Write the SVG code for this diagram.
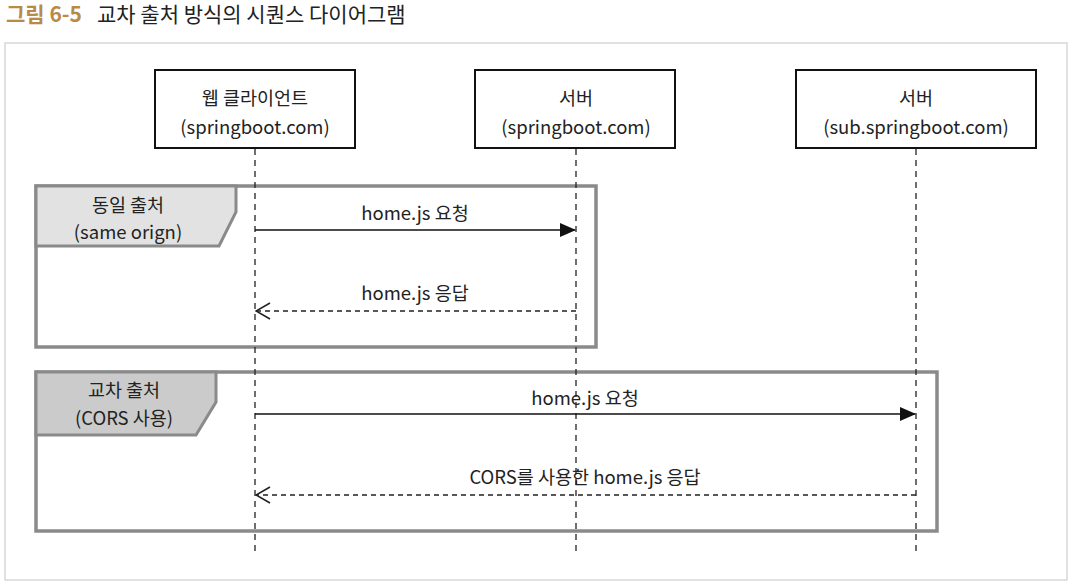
<svg xmlns="http://www.w3.org/2000/svg" width="1076" height="586" viewBox="0 0 1076 586">
<defs>
<style>
text{font-family:"Noto Sans CJK KR","Noto Sans",sans-serif;fill:#222;}
.lbl{font-size:18.5px;text-anchor:middle;}
.box{fill:#fff;stroke:#111;stroke-width:2;}
.life{stroke:#222;stroke-width:1.3;stroke-dasharray:6,5;fill:none;}
.frame{fill:none;stroke:#8a8a8a;stroke-width:3.5;}
.msg{stroke:#111;stroke-width:1.6;fill:none;}
.ret{stroke:#222;stroke-width:1.6;stroke-dasharray:5,4;fill:none;}
</style>
<marker id="fill" markerWidth="16" markerHeight="14" refX="15" refY="7" orient="auto" markerUnits="userSpaceOnUse">
<path d="M0,0 L16,7 L0,14 Z" fill="#111"/>
</marker>
<marker id="open" markerWidth="16" markerHeight="18" refX="15" refY="9" orient="auto" markerUnits="userSpaceOnUse">
<path d="M1,1 L15,9 L1,17" fill="none" stroke="#222" stroke-width="1.6"/>
</marker>
</defs>
<rect width="1076" height="586" fill="#fff"/>
<text x="6" y="22" style="font-size:21px;font-weight:bold;fill:#b88a48">그림 6-5</text>
<text x="97" y="22" style="font-size:21px;fill:#222">교차 출처 방식의 시퀀스 다이어그램</text>
<rect x="5" y="43" width="1062" height="537" fill="#fff" stroke="#d8d8d8" stroke-width="1.5"/>

<g id="frame-same">
<rect class="frame" x="36" y="186" width="560" height="161"/>
<polygon points="36,186 236,186 236,212 219,246 36,246" fill="#e2e2e2" stroke="#8a8a8a" stroke-width="3"/>
<text class="lbl" x="128" y="212">동일 출처</text>
<text class="lbl" x="128" y="239">(same orign)</text>
</g>
<g id="frame-cors">
<rect class="frame" x="36" y="372" width="901" height="159"/>
<polygon points="36,372 216,372 216,402 196,435 36,435" fill="#cbcbcb" stroke="#8a8a8a" stroke-width="3"/>
<text class="lbl" x="124" y="397">교차 출처</text>
<text class="lbl" x="124" y="425">(CORS 사용)</text>
</g>

<g id="lifelines">
<line class="life" x1="255" y1="149" x2="255" y2="553"/>
<line class="life" x1="576" y1="149" x2="576" y2="553"/>
<line class="life" x1="916" y1="149" x2="916" y2="553"/>
</g>

<g id="client">
<rect class="box" x="155" y="70" width="200" height="78"/>
<text class="lbl" x="255" y="105">웹 클라이언트</text>
<text class="lbl" x="255" y="134">(springboot.com)</text>
</g>
<g id="server">
<rect class="box" x="475" y="70" width="200" height="78"/>
<text class="lbl" x="576" y="105">서버</text>
<text class="lbl" x="576" y="134">(springboot.com)</text>
</g>
<g id="subserver">
<rect class="box" x="796" y="70" width="240" height="78"/>
<text class="lbl" x="916" y="105">서버</text>
<text class="lbl" x="916" y="134">(sub.springboot.com)</text>
</g>

<g id="connectors">
<line class="msg" x1="255" y1="230" x2="575" y2="230" marker-end="url(#fill)"/>
<text class="lbl" x="415" y="220">home.js 요청</text>
<line class="ret" x1="576" y1="311" x2="256" y2="311" marker-end="url(#open)"/>
<text class="lbl" x="415" y="300">home.js 응답</text>
<line class="msg" x1="255" y1="414" x2="915" y2="414" marker-end="url(#fill)"/>
<text class="lbl" x="585" y="405">home.js 요청</text>
<line class="ret" x1="916" y1="495" x2="256" y2="495" marker-end="url(#open)"/>
<text class="lbl" x="585" y="484">CORS를 사용한 home.js 응답</text>
</g>
</svg>
